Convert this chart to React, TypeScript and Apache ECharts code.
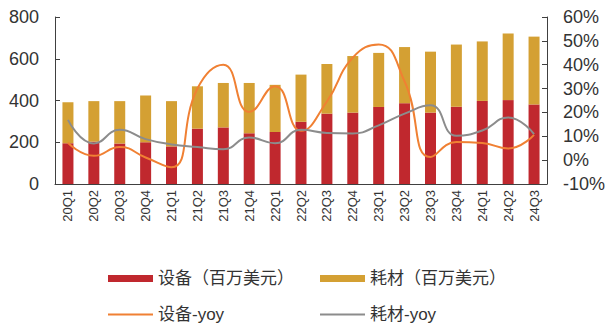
import React, { useEffect, useRef } from "react";
import * as echarts from "echarts";

// Quarterly categories
const quarters = [
  "20Q1", "20Q2", "20Q3", "20Q4",
  "21Q1", "21Q2", "21Q3", "21Q4",
  "22Q1", "22Q2", "22Q3", "22Q4",
  "23Q1", "23Q2", "23Q3", "23Q4",
  "24Q1", "24Q2", "24Q3",
];

// Revenue, USD millions
const equipment = [195, 203, 194, 200, 180, 265, 271, 243, 249, 298, 337, 342, 369, 387, 342, 370, 398, 402, 381];
const consumables = [197, 194, 203, 224, 217, 203, 213, 241, 226, 226, 238, 271, 259, 269, 292, 298, 285, 319, 325];

// Year-over-year growth, %
const equipmentYoy = [7.3, 1.8, 5.5, 1.1, -3.0, 30, 40, 20.2, 31, 12.3, 24.6, 43, 48.5, 33, 1.3, 7.6, 7.2, 4.9, 10.6];
const consumablesYoy = [16.9, 7, 12.7, 8.8, 6.6, 5.5, 4.6, 9.5, 7.1, 12.7, 11.4, 11.2, 14.6, 19.5, 23, 10.2, 12.4, 17.9, 10.9];

const leftTicks = { min: 0, max: 800, interval: 200 };
const rightTicks = { min: -10, max: 60, interval: 10 };

const RED = "#C0282E";
const GOLD = "#D4A033";
const ORANGE = "#F08033";
const GRAY = "#8C8C8C";
const AXIS = "#404040";
const TEXT = "#333333";
const FONT = "'Liberation Sans', 'Noto Sans CJK SC', sans-serif";

const NAME_EQ = "设备（百万美元）";
const NAME_CO = "耗材（百万美元）";
const NAME_EQ_YOY = "设备-yoy";
const NAME_CO_YOY = "耗材-yoy";

export default function App() {
  const ref = useRef<HTMLDivElement>(null);

  useEffect(() => {
    if (!ref.current) return;
    const chart = echarts.init(ref.current, undefined, { renderer: "svg" });

    const legendText = { fontSize: 17, color: TEXT, fontFamily: FONT };
    const legendBase = {
      orient: "horizontal" as const,
      itemWidth: 45,
      itemGap: 10,
      textStyle: legendText,
      selectedMode: false,
    };

    chart.setOption({
      animation: false,
      grid: { left: 55, right: 62, top: 17, bottom: 143, containLabel: false },
      legend: [
        { ...legendBase, left: 103, top: 265, itemHeight: 7, data: [{ name: NAME_EQ, icon: "rect" }] },
        { ...legendBase, left: 315, top: 265, itemHeight: 7, data: [{ name: NAME_CO, icon: "rect" }] },
        { ...legendBase, left: 103, top: 301, itemHeight: 2, data: [{ name: NAME_EQ_YOY, icon: "rect" }] },
        { ...legendBase, left: 315, top: 301, itemHeight: 2, data: [{ name: NAME_CO_YOY, icon: "rect" }] },
      ],
      xAxis: {
        type: "category",
        data: quarters,
        axisLine: { lineStyle: { color: AXIS, width: 1 } },
        axisTick: { inside: true, length: 4, lineStyle: { color: AXIS } },
        axisLabel: {
          rotate: 90,
          margin: 6,
          fontSize: 13,
          color: TEXT,
          fontFamily: FONT,
          interval: 0,
        },
      },
      yAxis: [
        {
          type: "value",
          ...leftTicks,
          splitLine: { show: false },
          axisLine: { show: true, lineStyle: { color: AXIS, width: 1 } },
          axisTick: { show: true, inside: true, length: 5, lineStyle: { color: AXIS } },
          axisLabel: { fontSize: 18, color: TEXT, fontFamily: FONT, margin: 16 },
        },
        {
          type: "value",
          position: "right",
          ...rightTicks,
          splitLine: { show: false },
          axisLine: { show: true, lineStyle: { color: AXIS, width: 1 } },
          axisTick: { show: true, inside: true, length: 5, lineStyle: { color: AXIS } },
          axisLabel: { fontSize: 18, color: TEXT, fontFamily: FONT, margin: 16, formatter: "{value}%" },
        },
      ],
      series: [
        {
          name: NAME_EQ,
          type: "bar",
          stack: "revenue",
          barWidth: 11,
          data: equipment,
          itemStyle: { color: RED },
        },
        {
          name: NAME_CO,
          type: "bar",
          stack: "revenue",
          barWidth: 11,
          data: consumables,
          itemStyle: { color: GOLD },
        },
        {
          name: NAME_EQ_YOY,
          type: "line",
          yAxisIndex: 1,
          smooth: true,
          showSymbol: false,
          symbol: "none",
          data: equipmentYoy,
          lineStyle: { color: ORANGE, width: 2 },
          itemStyle: { color: ORANGE },
        },
        {
          name: NAME_CO_YOY,
          type: "line",
          yAxisIndex: 1,
          smooth: true,
          showSymbol: false,
          symbol: "none",
          data: consumablesYoy,
          lineStyle: { color: GRAY, width: 2 },
          itemStyle: { color: GRAY },
        },
      ],
    });

    return () => chart.dispose();
  }, []);

  return (
    <div
      ref={ref}
      style={{ position: "fixed", left: 0, top: 0, width: 609, height: 327, background: "#fff" }}
    />
  );
}
